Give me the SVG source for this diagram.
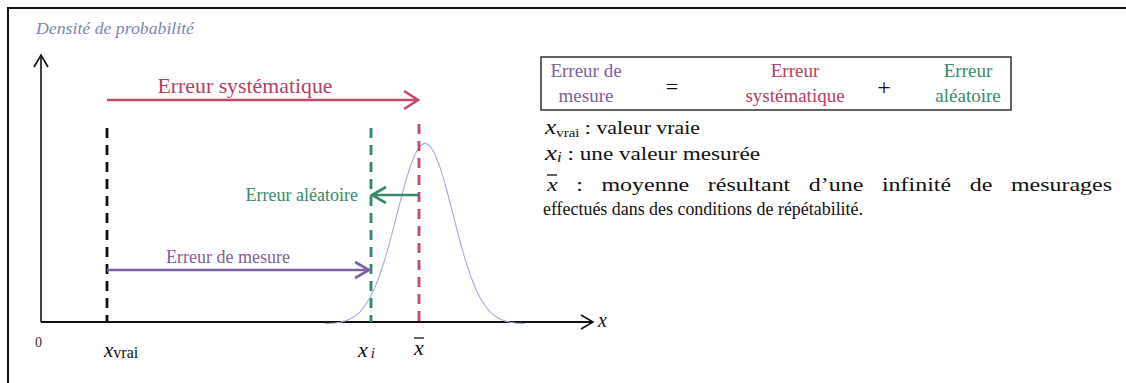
<svg xmlns="http://www.w3.org/2000/svg" width="1126" height="383" viewBox="0 0 1126 383" font-family="'Liberation Serif', 'DejaVu Serif', serif">
<style>
text{font-family:'Liberation Serif','DejaVu Serif',serif}
.red{fill:#b5405f}
.green{fill:#3a8a6a}
.purple{fill:#7e5f9f}
.blk{fill:#111}
.dash{stroke-width:2.8;stroke-dasharray:10 7;fill:none}
</style>
<defs>
<marker id="ahRed" markerUnits="userSpaceOnUse" markerWidth="22" markerHeight="22" refX="16" refY="11" orient="auto"><path d="M2,2 L16,11 L2,20" fill="none" stroke="#c04a6a" stroke-width="2.6"/></marker>
<marker id="ahGreen" markerUnits="userSpaceOnUse" markerWidth="22" markerHeight="22" refX="16" refY="11" orient="auto"><path d="M2,3 L16,11 L2,19" fill="none" stroke="#3a8a6a" stroke-width="2.6"/></marker>
<marker id="ahPurple" markerUnits="userSpaceOnUse" markerWidth="22" markerHeight="22" refX="16" refY="11" orient="auto"><path d="M2,3 L16,11 L2,19" fill="none" stroke="#8060a8" stroke-width="2.6"/></marker>
<marker id="ahBlk" markerUnits="userSpaceOnUse" markerWidth="20" markerHeight="20" refX="15" refY="10" orient="auto"><path d="M3,3 L15,10 L3,17" fill="none" stroke="#111" stroke-width="1.6"/></marker>
</defs>
<rect width="1126" height="383" fill="#fff"/>
<path d="M8,383 V8 H1126" fill="none" stroke="#111" stroke-width="2"/>

<g id="axes">
<line x1="41" y1="322" x2="41" y2="55" stroke="#111" stroke-width="1.6" marker-end="url(#ahBlk)"/>
<line x1="41" y1="322" x2="593" y2="322" stroke="#111" stroke-width="2" marker-end="url(#ahBlk)"/>
<text x="36" y="34" font-style="italic" font-size="16" fill="#7a86b0" textLength="158" lengthAdjust="spacingAndGlyphs">Densité de probabilité</text>
<text x="598" y="327" font-style="italic" font-size="20" fill="#111">x</text>
<text x="35" y="347" font-size="14" fill="#333">0</text>
</g>

<g id="gauss">
<polyline fill="none" stroke="#a3aee0" stroke-width="1.1" points="325,323.7 330,323.4 335,323 340,322.2 345,320.9 350,319 355,316.1 360,311.8 365,305.8 370,297.7 375,287.3 380,274.2 385,258.8 390,241.1 395,222.1 400,202.5 405,183.7 410,167.2 415,154.2 420,145.9 425,143 430,145.9 435,154.2 440,167.2 445,183.7 450,202.5 455,222.1 460,241.1 465,258.8 470,274.2 475,287.3 480,297.7 485,305.8 490,311.8 495,316.1 500,319 505,320.9 510,322.2 515,323 520,323.4 525,323.7"/>
</g>

<g id="xvrai">
<line x1="107" y1="128" x2="107" y2="322" stroke="#111" class="dash"/>
<text x="104" y="357" font-size="21" font-style="italic" fill="#111">x<tspan font-size="16" font-style="normal" dy="1">vrai</tspan></text>
</g>
<g id="xi">
<line x1="371" y1="128" x2="371" y2="322" stroke="#2f8a62" class="dash"/>
<text x="358" y="357" font-size="22" font-style="italic" fill="#111">x<tspan font-size="15" dx="3" dy="1">i</tspan></text>
</g>
<g id="xbar">
<line x1="419" y1="124" x2="419" y2="322" stroke="#c04a6a" class="dash"/>
<text x="414" y="355" font-size="22" font-style="italic" fill="#111">x</text>
<line x1="414" y1="338" x2="424" y2="338" stroke="#111" stroke-width="1.3"/>
</g>

<g id="connectors">
<line x1="107" y1="100" x2="418" y2="100" stroke="#c04a6a" stroke-width="2.6" marker-end="url(#ahRed)"/>
<line x1="419" y1="195" x2="372" y2="195" stroke="#3a8a6a" stroke-width="2.6" marker-end="url(#ahGreen)"/>
<line x1="107" y1="270" x2="369" y2="270" stroke="#8060a8" stroke-width="2.4" marker-end="url(#ahPurple)"/>
</g>
<g id="labels">
<text x="245" y="93" text-anchor="middle" class="red" font-size="21" textLength="175" lengthAdjust="spacingAndGlyphs">Erreur systématique</text>
<text x="358" y="201" text-anchor="end" class="green" font-size="18">Erreur aléatoire</text>
<text x="228" y="263" text-anchor="middle" class="purple" font-size="18">Erreur de mesure</text>
</g>

<g id="equation">
<rect x="541" y="57" width="470" height="53" fill="none" stroke="#222" stroke-width="1.4"/>
<text x="586" y="77" text-anchor="middle" class="purple" font-size="19">Erreur de</text>
<text x="586" y="102" text-anchor="middle" class="purple" font-size="19">mesure</text>
<text x="672" y="94" text-anchor="middle" class="blk" font-size="22">=</text>
<text x="795" y="77" text-anchor="middle" class="red" font-size="19">Erreur</text>
<text x="795" y="102" text-anchor="middle" class="red" font-size="19">systématique</text>
<text x="884" y="95" text-anchor="middle" class="blk" font-size="24">+</text>
<text x="968" y="77" text-anchor="middle" class="green" font-size="19">Erreur</text>
<text x="968" y="102" text-anchor="middle" class="green" font-size="19">aléatoire</text>
</g>

<g id="legend">
<text x="545" y="134" class="blk" font-size="19" textLength="155" lengthAdjust="spacingAndGlyphs"><tspan font-style="italic" font-size="22">x</tspan><tspan font-size="13" dy="3">vrai</tspan><tspan dy="-3"> : valeur vraie</tspan></text>
<text x="545" y="160" class="blk" font-size="19" textLength="215" lengthAdjust="spacingAndGlyphs"><tspan font-style="italic" font-size="22">x</tspan><tspan font-size="14" font-style="italic" dy="2">i</tspan><tspan dy="-2"> : une valeur mesurée</tspan></text>
<text x="547" y="191" class="blk" font-size="19" word-spacing="10" textLength="565" lengthAdjust="spacingAndGlyphs"><tspan font-style="italic">x</tspan> : moyenne résultant d’une infinité de mesurages</text>
<line x1="547" y1="175" x2="557" y2="175" stroke="#111" stroke-width="1.3"/>
<text x="543" y="215" class="blk" font-size="19" textLength="320" lengthAdjust="spacingAndGlyphs">effectués dans des conditions de répétabilité.</text>
</g>
</svg>
